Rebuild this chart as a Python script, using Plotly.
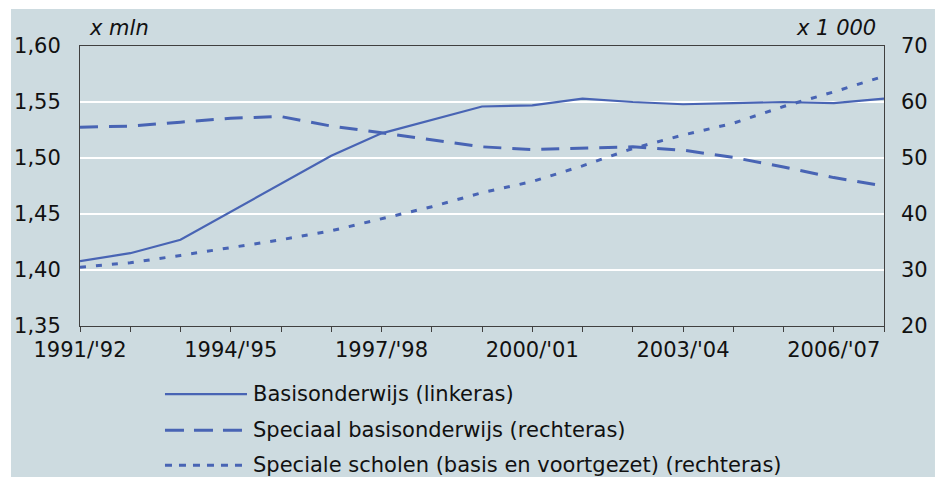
import plotly.graph_objects as go

# school years 1991/'92 .. 2007/'08
years = list(range(1991, 2008))
tick_labels = ["1991/'92", "", "", "1994/'95", "", "", "1997/'98", "", "",
               "2000/'01", "", "", "2003/'04", "", "", "2006/'07", ""]

# x mln (left axis)
basisonderwijs = [1.408, 1.415, 1.427, 1.452, 1.477, 1.502, 1.522, 1.534, 1.546,
                  1.547, 1.553, 1.550, 1.548, 1.549, 1.550, 1.549, 1.553]
# x 1 000 (right axis)
speciaal_basis = [55.5, 55.7, 56.4, 57.1, 57.4, 55.7, 54.5, 53.3, 52.0,
                  51.5, 51.7, 52.0, 51.4, 50.1, 48.4, 46.5, 45.0]
speciale_scholen = [30.5, 31.3, 32.6, 34.0, 35.4, 37.0, 39.2, 41.3, 43.8,
                    45.8, 48.6, 51.7, 54.1, 56.2, 59.2, 61.8, 64.6]

names = ["Basisonderwijs (linkeras)",
         "Speciaal basisonderwijs (rechteras)",
         "Speciale scholen (basis en voortgezet) (rechteras)"]

BLUE = "#4864b4"
BG = "#cddbe0"
FONT = "DejaVu Sans"
SIZE = 21

line_styles = [dict(width=2.2, dash="solid"),
               dict(width=3, dash="18px,11px"),
               dict(width=3, dash="6px,10px")]
legend_dash = ["solid", "19px,10px", "7px,7px"]

fig = go.Figure()
fig.add_trace(go.Scatter(x=years, y=basisonderwijs, mode="lines", name=names[0],
                         line=dict(color=BLUE, **line_styles[0]), yaxis="y"))
fig.add_trace(go.Scatter(x=years, y=speciaal_basis, mode="lines", name=names[1],
                         line=dict(color=BLUE, **line_styles[1]), yaxis="y2"))
fig.add_trace(go.Scatter(x=years, y=speciale_scholen, mode="lines", name=names[2],
                         line=dict(color=BLUE, **line_styles[2]), yaxis="y2"))

# background panel (leaves a thin white border at top/left/right)
shapes = [dict(type="rect", xref="paper", yref="paper", layer="below",
               x0=-0.0858, x1=1.0634, y0=-0.6, y1=1.132,
               fillcolor=BG, line=dict(width=0))]

# hand-made legend with long line samples
legend_y = [-0.243, -0.372, -0.497]
annotations = []
for name, st, dash, ly in zip(names, line_styles, legend_dash, legend_y):
    shapes.append(dict(type="line", xref="paper", yref="paper",
                       x0=0.1057, x1=0.2077, y0=ly, y1=ly,
                       line=dict(color=BLUE, width=st["width"], dash=dash)))
    annotations.append(dict(text=name, xref="paper", yref="paper", x=0.2130, y=ly,
                            xanchor="left", yanchor="middle", showarrow=False,
                            font=dict(family=FONT, size=SIZE, color="#111111")))

annotations.append(dict(text="<i>x mln</i>", xref="paper", yref="paper",
                        x=0.0087, y=1.066, xanchor="left", yanchor="middle",
                        showarrow=False, font=dict(family=FONT, size=SIZE, color="#111111")))
annotations.append(dict(text="<i>x 1 000</i>", xref="paper", yref="paper",
                        x=0.9925, y=1.066, xanchor="right", yanchor="middle",
                        showarrow=False, font=dict(family=FONT, size=SIZE, color="#111111")))

fig.update_layout(
    width=939, height=477,
    margin=dict(l=80, r=55, t=46, b=151),
    paper_bgcolor="white",
    plot_bgcolor=BG,
    separators=",.",
    showlegend=False,
    font=dict(family=FONT, size=SIZE, color="#111111"),
    shapes=shapes,
    annotations=annotations,
    xaxis=dict(range=[1991, 2007], tickvals=years, ticktext=tick_labels,
               ticks="outside", ticklen=5, tickcolor="#404040", tickangle=0,
               showline=True, linecolor="#404040", linewidth=1, mirror=True,
               showgrid=False, zeroline=False),
    yaxis=dict(range=[1.35, 1.60], dtick=0.05, tickformat=".2f",
               showline=True, linecolor="#404040", linewidth=1, mirror=True,
               showgrid=True, gridcolor="white", gridwidth=1.5,
               zeroline=False, ticklabelstandoff=14),
    yaxis2=dict(range=[20, 70], dtick=10, overlaying="y", side="right",
                showgrid=False, zeroline=False, showline=False,
                ticklabelstandoff=16),
)

fig.write_html("out.html", config={"displayModeBar": False},
               post_script="document.body.style.margin='0';document.body.style.padding='0';")
